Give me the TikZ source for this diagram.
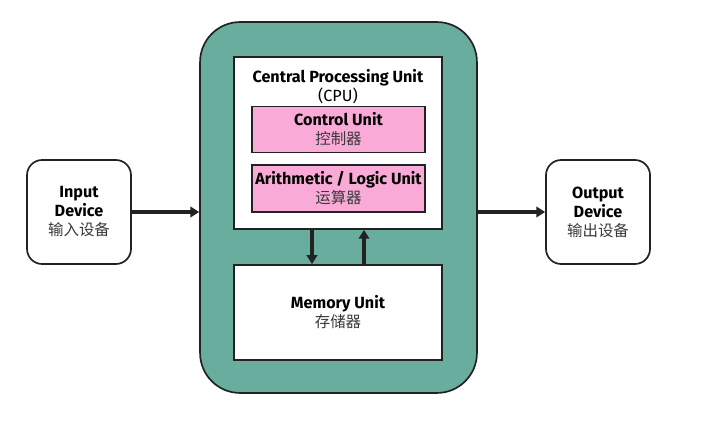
\documentclass[tikz,border=0pt]{standalone}
\usepackage{fontspec}
\setmainfont{Fira Sans}
\newfontfamily\cjk{Noto Sans CJK SC}
\usetikzlibrary{arrows.meta,positioning,calc}
\definecolor{Teal}{HTML}{68AD9D}
\definecolor{Pink}{HTML}{F9AAD6}
\definecolor{Ink}{HTML}{222222}
\definecolor{Han}{HTML}{3A3A3A}
\newcommand{\zh}[1]{{\mdseries\cjk\color{Han}\fontsize{11}{13}\selectfont #1}}

\begin{document}
\begin{tikzpicture}[x=0.025cm,y=-0.025cm,
    box/.style={draw=Ink,line width=1.2pt,fill=white,align=center,
      font=\fontsize{11.5}{13.5}\selectfont\bfseries,inner sep=0pt},
    dev/.style={box,rounded corners=0.38cm,minimum width=2.6cm,minimum height=2.6cm},
    unit/.style={box,fill=Pink,minimum width=4.32cm,minimum height=1.15cm},
    arr/.style={-{Triangle[length=2.2mm,width=2.6mm]},line width=2.8pt,Ink}
  ]
    \useasboundingbox (0,0) rectangle (708,421);
    % outer system box
    \node[draw=Ink,line width=1.2pt,fill=Teal,rounded corners=1cm,
      minimum width=6.92cm,minimum height=9.27cm] (sys) at (338.5,207.5) {};
    \node[box,minimum width=5.2cm,minimum height=4.3cm] (cpu) at (338,143) {};
    \node[font=\fontsize{11.5}{13.5}\selectfont,align=center,anchor=north] (cput)
      at ($(cpu.north)+(0,8)$) {\textbf{Central Processing Unit}\\(CPU)};
    \node[unit] (cu) at (338.5,129.5) {Control Unit\\\zh{控制器}};
    \node[unit,minimum height=1.18cm] (alu) at (338.5,188.5)
      {Arithmetic / Logic Unit\\\zh{运算器}};
    \node[box,minimum width=5.2cm,minimum height=2.38cm] (mem) at (338,312.5)
      {Memory Unit\\\zh{存储器}};
    % devices
    \node[dev] (in) at (79,212) {Input\\Device\\\zh{输入设备}};
    \node[dev] (out) at (598,212) {Output\\Device\\\zh{输出设备}};
    % connectors
    \draw[arr] (in.east) -- (in.east -| sys.west);
    \draw[arr] (out.west -| sys.east) -- (out.west);
    \draw[arr] ($(cpu.south)+(-26,0)$) -- ($(mem.north)+(-26,0)$);
    \draw[arr] ($(mem.north)+(26,0)$) -- ($(cpu.south)+(26,0)$);
  \end{tikzpicture}
\end{document}
